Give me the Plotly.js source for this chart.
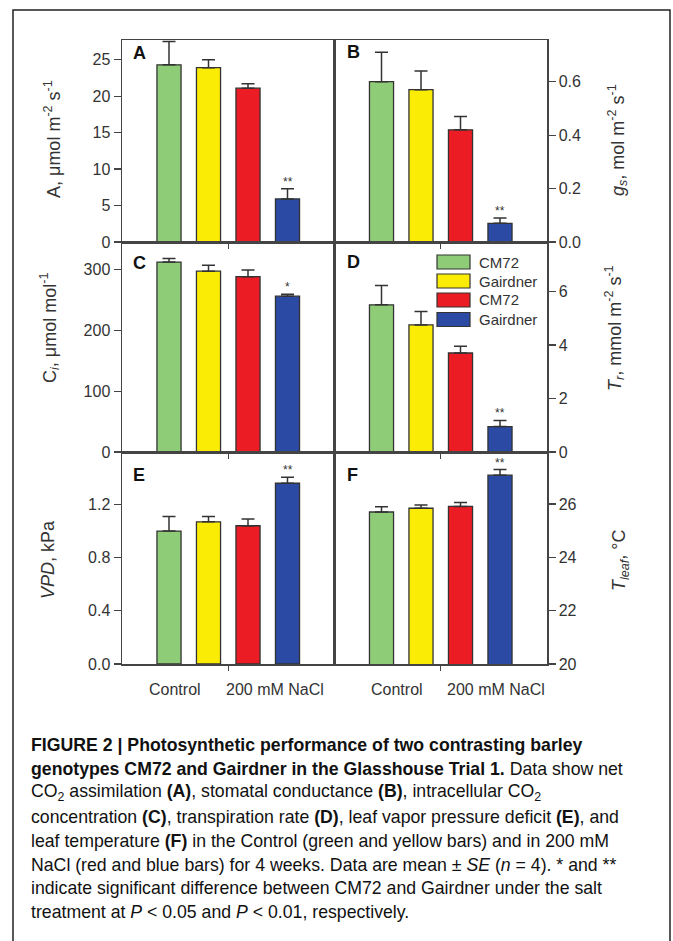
<!DOCTYPE html>
<html>
<head>
<meta charset="utf-8">
<script src="https://cdn.plot.ly/plotly-3.0.1.min.js"></script>
<style>html,body{margin:0;padding:0;background:#fff;}#chart{width:673px;height:941px;}</style>
</head>
<body>
<div id="chart"></div>
<script>
// ---- Data ----
const genotypes = ['CM72', 'Gairdner', 'CM72', 'Gairdner'];
const treatments = ['Control', '200 mM NaCl'];
const barColors = ['#8fcc78', '#fbec05', '#ec1c24', '#2b4aa3'];
const xPos = [1, 2, 3, 4];

const A_mean = [24.3, 23.9, 21.1, 5.9];
const A_se = [3.2, 1.1, 0.6, 1.4];
const A_sig = ['', '', '', '**'];

const gs_mean = [0.60, 0.57, 0.42, 0.07];
const gs_se = [0.11, 0.07, 0.05, 0.02];
const gs_sig = ['', '', '', '**'];

const Ci_mean = [312, 297, 288, 256];
const Ci_se = [6, 10, 11, 3];
const Ci_sig = ['', '', '', '*'];

const Tr_mean = [5.5, 4.75, 3.7, 0.95];
const Tr_se = [0.72, 0.5, 0.25, 0.23];
const Tr_sig = ['', '', '', '**'];

const VPD_mean = [1.00, 1.07, 1.04, 1.36];
const VPD_se = [0.11, 0.04, 0.05, 0.045];
const VPD_sig = ['', '', '', '**'];

const Tleaf_mean = [25.70, 25.84, 25.91, 27.08];
const Tleaf_se = [0.20, 0.12, 0.15, 0.21];
const Tleaf_sig = ['', '', '', '**'];

const panelLetters = ['A', 'B', 'C', 'D', 'E', 'F'];
const yTitles = [
  'A, μmol m<sup>-2</sup> s<sup>-1</sup>',
  '<i>g<sub>s</sub></i>, mol m<sup>-2</sup> s<sup>-1</sup>',
  'C<sub><i>i</i></sub>, μmol mol<sup>-1</sup>',
  '<i>T<sub>r</sub></i>, mmol m<sup>-2</sup> s<sup>-1</sup>',
  '<i>VPD</i>, kPa',
  '<i>T<sub>leaf</sub></i>, °C'
];
const captionLines = [
  '<b>FIGURE 2 | Photosynthetic performance of two contrasting barley</b>',
  '<b>genotypes CM72 and Gairdner in the Glasshouse Trial 1.</b> Data show net',
  'CO<sub>2</sub> assimilation <b>(A)</b>, stomatal conductance <b>(B)</b>, intracellular CO<sub>2</sub>',
  'concentration <b>(C)</b>, transpiration rate <b>(D)</b>, leaf vapor pressure deficit <b>(E)</b>, and',
  'leaf temperature <b>(F)</b> in the Control (green and yellow bars) and in 200 mM',
  'NaCl (red and blue bars) for 4 weeks. Data are mean ± <i>SE</i> (<i>n</i> = 4). * and **',
  'indicate significant difference between CM72 and Gairdner under the salt',
  'treatment at <i>P</i> &lt; 0.05 and <i>P</i> &lt; 0.01, respectively.'
];

// ---- Layout helpers ----
const W = 673, H = 941;
const px = v => v / W;
const py = v => 1 - v / H;
const FONT = 'Liberation Sans, Arial, Helvetica, sans-serif';
const INK = '#333333';

const colDom = [[px(122), px(334.5)], [px(334.5), px(547)]];
const rowDom = [[py(242), py(40)], [py(452), py(242)], [py(664), py(452)]];

const panels = [
  {m: A_mean, se: A_se, sig: A_sig, range: [0, 27.7], dtick: 5, fmt: 'd'},
  {m: gs_mean, se: gs_se, sig: gs_sig, range: [0, 0.756], dtick: 0.2, fmt: '.1f'},
  {m: Ci_mean, se: Ci_se, sig: Ci_sig, range: [0, 345], dtick: 100, fmt: 'd'},
  {m: Tr_mean, se: Tr_se, sig: Tr_sig, range: [0, 7.85], dtick: 2, fmt: 'd'},
  {m: VPD_mean, se: VPD_se, sig: VPD_sig, range: [0, 1.595], dtick: 0.4, fmt: '.1f'},
  {m: Tleaf_mean, se: Tleaf_se, sig: Tleaf_sig, range: [20, 27.95], dtick: 2, fmt: 'd', tick0: 20}
];

const data = [];
const layout = {
  width: W, height: H,
  margin: {l: 0, r: 0, t: 0, b: 0},
  paper_bgcolor: '#ffffff', plot_bgcolor: '#ffffff',
  showlegend: false,
  font: {family: FONT, color: INK, size: 14},
  annotations: [], shapes: []
};

panels.forEach((p, i) => {
  const n = i + 1;
  const sfx = n === 1 ? '' : String(n);
  const col = i % 2, row = Math.floor(i / 2);
  data.push({
    type: 'bar', x: xPos, y: p.m, width: 0.61,
    name: panelLetters[i],
    xaxis: 'x' + sfx, yaxis: 'y' + sfx,
    marker: {color: barColors, line: {color: INK, width: 1.3}},
    error_y: {type: 'data', symmetric: false, array: p.se, arrayminus: p.se.map(() => 0),
              color: INK, thickness: 1.5, width: 6.5},
    hoverinfo: 'skip'
  });
  layout['xaxis' + sfx] = {
    domain: colDom[col], anchor: 'y' + sfx, range: [-0.19, 5.19],
    showline: true, mirror: true, linecolor: '#444', linewidth: 1.5,
    tickvals: [2.5], showticklabels: false, ticks: 'outside', ticklen: 5, tickcolor: '#444', tickwidth: 1.2,
    showgrid: false, zeroline: false, fixedrange: true
  };
  layout['yaxis' + sfx] = {
    domain: rowDom[row], anchor: 'x' + sfx, range: p.range,
    side: col === 0 ? 'left' : 'right',
    showline: true, mirror: true, linecolor: '#444', linewidth: 1.5,
    ticks: 'outside', ticklen: 7, tickcolor: '#444', tickwidth: 1.2,
    dtick: p.dtick, tick0: p.tick0 || 0, tickformat: p.fmt,
    tickfont: {family: FONT, size: 16, color: INK},
    showgrid: false, zeroline: false, fixedrange: true
  };
  // significance marks
  p.sig.forEach((s, k) => {
    if (!s) return;
    layout.annotations.push({
      xref: 'x' + sfx, yref: 'y' + sfx, x: xPos[k], y: p.m[k] + p.se[k],
      text: s, showarrow: false, yanchor: 'bottom', yshift: -2,
      font: {family: FONT, size: 12, color: INK}
    });
  });
});

// panel letters
const letterPos = [[131, 53], [345, 52], [131, 263], [345, 262], [131, 475], [345, 475]];
panelLetters.forEach((L, i) => {
  layout.annotations.push({
    xref: 'paper', yref: 'paper', x: px(letterPos[i][0]), y: py(letterPos[i][1]),
    xanchor: 'left', yanchor: 'middle', text: '<b>' + L + '</b>', showarrow: false,
    font: {family: FONT, size: 18, color: '#111'}
  });
});

// y-axis titles
const titlePos = [[52, 139], [618, 140], [50, 328], [615, 328], [48, 560], [620, 560]];
yTitles.forEach((t, i) => {
  layout.annotations.push({
    xref: 'paper', yref: 'paper', x: px(titlePos[i][0]), y: py(titlePos[i][1]),
    xanchor: 'center', yanchor: 'middle', textangle: -90, text: t, showarrow: false,
    font: {family: FONT, size: 18, color: INK}
  });
});

// category labels on bottom row
[['x5', [1.15, 3.68]], ['x6', [1.39, 3.9]]].forEach(([xr, xs]) => {
  treatments.forEach((t, k) => {
    layout.annotations.push({
      xref: xr, yref: 'paper', x: xs[k], y: py(689), xanchor: 'center', yanchor: 'middle',
      text: t, showarrow: false, font: {family: FONT, size: 16, color: INK}
    });
  });
});

// legend (in panel D)
const legRows = [262, 281, 300, 319.5];
genotypes.forEach((g, k) => {
  layout.shapes.push({
    type: 'rect', xref: 'paper', yref: 'paper',
    x0: px(437), x1: px(470), y0: py(legRows[k] + 7), y1: py(legRows[k] - 7),
    fillcolor: barColors[k], line: {color: INK, width: 1.2}
  });
  layout.annotations.push({
    xref: 'paper', yref: 'paper', x: px(477), y: py(legRows[k]), xanchor: 'left', yanchor: 'middle',
    text: g, showarrow: false, font: {family: FONT, size: 15, color: INK}
  });
});

// outer frame
layout.shapes.push({
  type: 'rect', xref: 'paper', yref: 'paper', x0: px(13), x1: px(670), y0: -0.02, y1: py(10),
  line: {color: '#222', width: 1.5}, fillcolor: 'rgba(0,0,0,0)', layer: 'below'
});

// caption
captionLines.forEach((line, k) => {
  layout.annotations.push({
    xref: 'paper', yref: 'paper', x: px(29), y: py(745 + k * 23.9), xanchor: 'left', yanchor: 'middle',
    align: 'left', text: line, showarrow: false, font: {family: FONT, size: 17.7, color: '#111'}
  });
});

Plotly.newPlot('chart', data, layout, {staticPlot: true, displayModeBar: false});
</script>
</body>
</html>
